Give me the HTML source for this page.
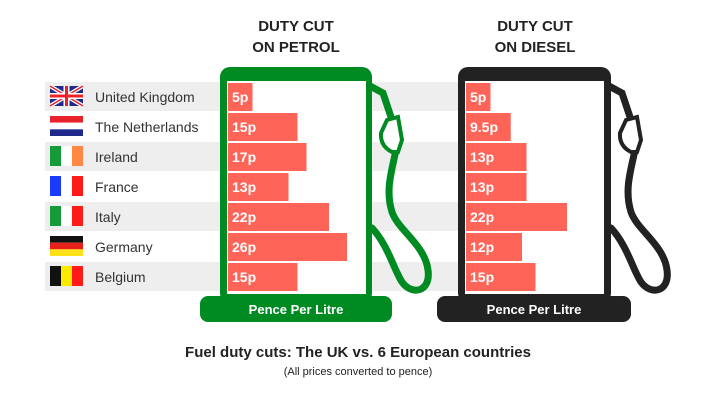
<!DOCTYPE html>
<html><head><meta charset="utf-8"><style>
body{margin:0;background:#fff;width:716px;height:400px;overflow:hidden;font-family:"Liberation Sans",sans-serif}
svg text{font-family:"Liberation Sans",sans-serif}
</style></head><body>
<svg id="chart" width="716" height="400" xmlns="http://www.w3.org/2000/svg">
<g id="bands"></g>
<g>
<path d="M370,86 L383,93 L392,120 M396,150 C392,170 385,190 392,212 C398,230 425,245 428,270 C431,292 412,296 402,282 C394,270 388,245 372,228" fill="none" stroke="#008a22" stroke-width="7" stroke-linecap="round"/>
<path d="M387,120 L398,117 L402,140 L398,152 L392,152 Q380,146 381,133 Z" fill="#fff" stroke="#008a22" stroke-width="4"/>
<rect x="220" y="67" width="152" height="236" rx="10" fill="#008a22"/>
<rect x="227" y="81" width="139" height="213" fill="#fff"/>
<rect x="200" y="296" width="192" height="26" rx="8" fill="#008a22"/>
<text x="296" y="314" text-anchor="middle" fill="#fff" font-weight="bold" font-size="13">Pence Per Litre</text>
</g>
<g>
<path d="M609,86 L622,93 L631,120 M635,150 C631,170 624,190 631,212 C637,230 664,245 667,270 C670,292 651,296 641,282 C633,270 627,245 611,228" fill="none" stroke="#222" stroke-width="7" stroke-linecap="round"/>
<path d="M626,120 L637,117 L641,140 L637,152 L631,152 Q619,146 620,133 Z" fill="#fff" stroke="#222" stroke-width="4"/>
<rect x="458" y="67" width="153" height="236" rx="10" fill="#222"/>
<rect x="465" y="81" width="139" height="213" fill="#fff"/>
<rect x="437" y="296" width="194" height="26" rx="8" fill="#222"/>
<text x="534" y="314" text-anchor="middle" fill="#fff" font-weight="bold" font-size="13">Pence Per Litre</text>
</g>
<g id="bars"></g>
<g id="labels"></g>
<text x="296" y="31" text-anchor="middle" font-weight="bold" font-size="15" fill="#222">DUTY CUT</text>
<text x="296" y="52" text-anchor="middle" font-weight="bold" font-size="15" fill="#222">ON PETROL</text>
<text x="535" y="31" text-anchor="middle" font-weight="bold" font-size="15" fill="#222">DUTY CUT</text>
<text x="535" y="52" text-anchor="middle" font-weight="bold" font-size="15" fill="#222">ON DIESEL</text>
<text x="358" y="357" text-anchor="middle" font-weight="bold" font-size="15" fill="#222">Fuel duty cuts: The UK vs. 6 European countries</text>
<text x="358" y="375" text-anchor="middle" font-size="11" fill="#222">(All prices converted to pence)</text>
</svg>
<script>
const countries=["United Kingdom","The Netherlands","Ireland","France","Italy","Germany","Belgium"];
const petrol=[5,15,17,13,22,26,15];
const diesel=[5,9.5,13,13,22,12,15];
const petrolLabels=["5p","15p","17p","13p","22p","26p","15p"];
const dieselLabels=["5p","9.5p","13p","13p","22p","12p","15p"];
const NS="http://www.w3.org/2000/svg";
function y(i){return 83+i*30;}
function w(v){return 2+v*4.5;}
function mk(tag,attrs,parent){const e=document.createElementNS(NS,tag);for(const k in attrs)e.setAttribute(k,attrs[k]);parent.appendChild(e);return e;}
const bands=document.getElementById('bands'),bars=document.getElementById('bars'),labels=document.getElementById('labels');
const flags=[
 null,
 [["#e8232b",0],["#fff",1],["#1d2a8c",2],"h"],
 [["#169b3b",0],["#fff",1],["#ff8845",2],"v"],
 [["#1a3bff",0],["#fff",1],["#ff1a1a",2],"v"],
 [["#169b3b",0],["#fff",1],["#ff1a1a",2],"v"],
 [["#111",0],["#e8201a",1],["#ffe11a",2],"h"],
 [["#111",0],["#ffe900",1],["#ff1a1a",2],"v"]
];
countries.forEach((c,i)=>{
 if(i%2===0){const b=mk('rect',{x:45,y:y(i)-1,width:413,height:29,fill:"#eeeeee"},bands);
 
 }
 const g=mk('g',{},labels);
 
 
 const fx=50,fy=y(i)+3,fw=33,fh=20;
 if(i===0){
  mk('rect',{x:fx,y:fy,width:fw,height:fh,fill:"#1d2a8c"},g);
  mk('path',{d:`M${fx},${fy}L${fx+fw},${fy+fh}M${fx+fw},${fy}L${fx},${fy+fh}`,stroke:"#fff","stroke-width":4},g);
  mk('path',{d:`M${fx},${fy}L${fx+fw},${fy+fh}M${fx+fw},${fy}L${fx},${fy+fh}`,stroke:"#e8232b","stroke-width":1.5},g);
  mk('path',{d:`M${fx+fw/2},${fy}V${fy+fh}M${fx},${fy+fh/2}H${fx+fw}`,stroke:"#fff","stroke-width":6},g);
  mk('path',{d:`M${fx+fw/2},${fy}V${fy+fh}M${fx},${fy+fh/2}H${fx+fw}`,stroke:"#e8232b","stroke-width":3},g);
 } else {
  const f=flags[i];
  for(let k=0;k<3;k++){
   if(f[3]==="v")mk('rect',{x:fx+k*fw/3,y:fy,width:fw/3,height:fh,fill:f[k][0]},g);
   else mk('rect',{x:fx,y:fy+k*fh/3,width:fw,height:fh/3,fill:f[k][0]},g);
  }
 }
 const t=mk('text',{x:95,y:y(i)+19,"font-size":14,fill:"#333"},g);t.textContent=c;
 [[petrol,petrolLabels,228],[diesel,dieselLabels,466]].forEach(([vals,lbl,x0],s)=>{
  const r=mk('rect',{x:x0,y:y(i),width:w(vals[i]),height:28,fill:"#ff6459"},bars);
  
  
  const tx=mk('text',{x:x0+4,y:y(i)+19,"font-size":14,"font-weight":"bold",fill:"#fff"},bars);
  
  
  tx.textContent=lbl[i];
 });
});
</script>
</body></html>
